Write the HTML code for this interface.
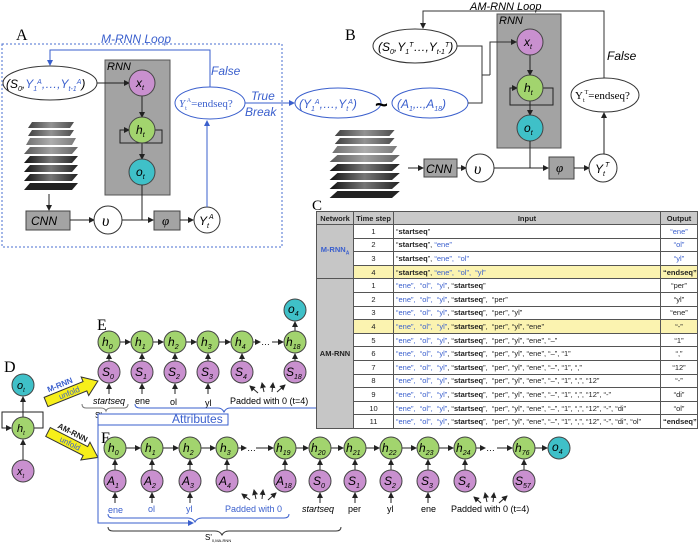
<!DOCTYPE html>
<html><head><meta charset="utf-8"><style>
body{margin:0;width:700px;height:543px;background:#fff;overflow:hidden;position:relative;font-family:"Liberation Sans",sans-serif}
svg{position:absolute;left:0;top:0}
table{position:absolute;left:316px;top:211px;width:381px;border-collapse:collapse;font-size:7.5px;font-family:"Liberation Sans",sans-serif;color:#222;table-layout:fixed}
td,th{border:1px solid #555;padding:0 2px;height:12.6px;line-height:11px;white-space:nowrap;overflow:hidden}
th{background:#c9c9c9;font-weight:bold;height:12px}
td.n{background:#c6c6c6;font-weight:bold;text-align:center}
td.c{text-align:center}
.b{color:#3a5fcd}
tr.y td{background:#fbf3b0}
tr.y td.n{background:#c6c6c6}
</style></head><body>
<svg width="700" height="543" viewBox="0 0 700 543" font-family="Liberation Sans, sans-serif">
<defs>
<marker id="a" markerWidth="6" markerHeight="6" refX="5" refY="3" orient="auto" markerUnits="userSpaceOnUse"><path d="M0,0L6,3L0,6z" fill="#222"/></marker>
<marker id="ab" markerWidth="6" markerHeight="6" refX="5" refY="3" orient="auto" markerUnits="userSpaceOnUse"><path d="M0,0L6,3L0,6z" fill="#3a5fcd"/></marker>
<linearGradient id="g" x1="0" x2="1"><stop offset="0" stop-color="#111"/><stop offset="0.5" stop-color="#777"/><stop offset="1" stop-color="#222"/></linearGradient>
<g id="stack">
<polygon points="10,0 52,0 48,6 6,6" fill="url(#g)" opacity="0.8"/>
<polygon points="10,8 52,8 48,14 6,14" fill="url(#g)" opacity="0.8"/>
<polygon points="8,16 54,16 50,23 4,23" fill="url(#g)" opacity="0.6"/>
<polygon points="8,25 56,25 50,32 2,32" fill="url(#g)" opacity="0.7"/>
<polygon points="8,34 56,34 50,41 2,41" fill="url(#g)"/>
<polygon points="8,43 56,43 50,50 2,50" fill="url(#g)"/>
<polygon points="8,52 56,52 50,59 2,59" fill="url(#g)"/>
<polygon points="8,61 56,61 50,68 2,68" fill="#222"/>
</g>
</defs>

<!-- Panel A -->
<text x="16" y="40" font-family="Liberation Serif, serif" font-size="16">A</text>
<text x="101" y="43" font-size="12" font-style="italic" fill="#3a5fcd">M-RNN Loop</text>
<rect x="2" y="44" width="280" height="203" fill="none" stroke="#4a6fd0" stroke-dasharray="2,2"/>
<ellipse cx="50" cy="83" rx="47" ry="17" fill="#fff" stroke="#333"/>
<text x="6" y="88" font-size="12" font-style="italic">(S<tspan font-size="7" dy="3">0</tspan><tspan dy="-3">,</tspan><tspan fill="#3a5fcd">Y<tspan font-size="7" dy="3">1</tspan><tspan font-size="7" dy="-7">A</tspan><tspan dy="4">,…,Y</tspan><tspan font-size="7" dy="3">t-1</tspan><tspan font-size="7" dy="-7">A</tspan></tspan><tspan dy="4">)</tspan></text>
<rect x="105" y="60" width="65" height="135" fill="#a3a3a3" stroke="#555"/>
<text x="107" y="70" font-size="11" font-style="italic">RNN</text>
<line x1="97" y1="83" x2="129" y2="83" stroke="#222" marker-end="url(#a)"/>
<line x1="142" y1="96" x2="142" y2="117" stroke="#222" marker-end="url(#a)"/>
<line x1="142" y1="143" x2="142" y2="159" stroke="#222" marker-end="url(#a)"/>
<path d="M155,130H162V143H120V130H129" fill="none" stroke="#222" marker-end="url(#a)"/>
<circle cx="142" cy="83" r="13" fill="#c990cf" stroke="#444"/><text x="136" y="87" font-size="12" font-style="italic">x<tspan font-size="7" dy="3">t</tspan></text>
<circle cx="142" cy="130" r="13" fill="#a2d46e" stroke="#444"/><text x="136" y="134" font-size="12" font-style="italic">h<tspan font-size="7" dy="3">t</tspan></text>
<circle cx="142" cy="172" r="13" fill="#3fc0c8" stroke="#444"/><text x="136" y="176" font-size="12" font-style="italic">o<tspan font-size="7" dy="3">t</tspan></text>
<use href="#stack" x="22" y="122"/>
<line x1="49" y1="194" x2="49" y2="210" stroke="#222" marker-end="url(#a)"/>
<rect x="26" y="211" width="44" height="19" fill="#a3a3a3" stroke="#444"/><text x="31" y="225" font-size="12" font-style="italic">CNN</text>
<line x1="70" y1="220" x2="94" y2="220" stroke="#222" marker-end="url(#a)"/>
<circle cx="108" cy="220" r="14" fill="#fff" stroke="#333"/><text x="102" y="226" font-size="16" font-style="italic" font-family="Liberation Serif,serif">υ</text>
<path d="M142,185V220" stroke="#222"/>
<line x1="122" y1="220" x2="153" y2="220" stroke="#222" marker-end="url(#a)"/>
<rect x="154" y="211" width="26" height="19" fill="#a3a3a3" stroke="#444"/><text x="162" y="225" font-size="13" font-style="italic" font-family="Liberation Serif,serif">φ</text>
<line x1="180" y1="220" x2="193" y2="220" stroke="#222" marker-end="url(#a)"/>
<circle cx="207" cy="220" r="13" fill="#fff" stroke="#333"/><text x="199" y="225" font-size="12" font-style="italic">Y<tspan font-size="7" dy="3">t</tspan><tspan font-size="7" dy="-9">A</tspan></text>
<line x1="207" y1="207" x2="207" y2="121" stroke="#3a5fcd" marker-end="url(#ab)"/>
<path d="M210,87V50H50V65" fill="none" stroke="#3a5fcd" marker-end="url(#ab)"/>
<ellipse cx="210" cy="103" rx="35" ry="16" fill="#fff" stroke="#3a5fcd"/>
<text x="179" y="107" font-size="11" fill="#3a5fcd" font-family="Liberation Serif,serif"><tspan font-style="italic">Y</tspan><tspan font-size="6" dy="3">t</tspan><tspan font-size="6" dy="-8">A</tspan><tspan dy="5">=endseq?</tspan></text>
<text x="211" y="75" font-size="12" font-style="italic" fill="#3a5fcd">False</text>
<text x="251" y="100" font-size="12" font-style="italic" fill="#3a5fcd">True</text>
<text x="245" y="116" font-size="12" font-style="italic" fill="#3a5fcd">Break</text>
<line x1="245" y1="103" x2="294" y2="103" stroke="#3a5fcd" marker-end="url(#ab)"/>
<ellipse cx="338" cy="103" rx="43" ry="15" fill="#fff" stroke="#3a5fcd"/>
<text x="299" y="108" font-size="12" font-style="italic" fill="#3a5fcd">(Y<tspan font-size="7" dy="3">1</tspan><tspan font-size="7" dy="-7">A</tspan><tspan dy="4">,…,Y</tspan><tspan font-size="7" dy="3">t</tspan><tspan font-size="7" dy="-7">A</tspan><tspan dy="4">)</tspan></text>
<text x="375" y="112" font-size="22" font-weight="bold">~</text>
<ellipse cx="430" cy="103" rx="38" ry="15" fill="#fff" stroke="#3a5fcd"/>
<text x="397" y="108" font-size="12" font-style="italic" fill="#3a5fcd">(A<tspan font-size="7" dy="3">1</tspan><tspan dy="-3">,..,A</tspan><tspan font-size="7" dy="3">18</tspan><tspan dy="-3">)</tspan></text>

<!-- Panel B -->
<text x="345" y="40" font-family="Liberation Serif, serif" font-size="16">B</text>
<text x="470" y="10" font-size="11" font-style="italic">AM-RNN Loop</text>
<path d="M604,78V11H423V28" fill="none" stroke="#333" marker-end="url(#a)"/>
<text x="607" y="60" font-size="12" font-style="italic">False</text>
<ellipse cx="415" cy="46" rx="42" ry="17" fill="#fff" stroke="#333"/>
<text x="378" y="51" font-size="12" font-style="italic">(S<tspan font-size="7" dy="3">0</tspan><tspan dy="-3">,Y</tspan><tspan font-size="7" dy="3">1</tspan><tspan font-size="7" dy="-7">T</tspan><tspan dy="4">…,Y</tspan><tspan font-size="7" dy="3">t-1</tspan><tspan font-size="7" dy="-7">T</tspan><tspan dy="4">)</tspan></text>
<rect x="497" y="14" width="64" height="134" fill="#a3a3a3" stroke="#555"/>
<text x="499" y="24" font-size="11" font-style="italic">RNN</text>
<path d="M457,46H482V103H468" fill="none" stroke="#333"/>
<line x1="482" y1="75" x2="490" y2="75" stroke="#333"/>
<path d="M490,75V42H516" fill="none" stroke="#333" marker-end="url(#a)"/>
<line x1="530" y1="55" x2="530" y2="75" stroke="#222" marker-end="url(#a)"/>
<line x1="530" y1="101" x2="530" y2="115" stroke="#222" marker-end="url(#a)"/>
<path d="M543,88H553V105H510V88H517" fill="none" stroke="#222" marker-end="url(#a)"/>
<circle cx="530" cy="42" r="13" fill="#c990cf" stroke="#444"/><text x="524" y="46" font-size="12" font-style="italic">x<tspan font-size="7" dy="3">t</tspan></text>
<circle cx="530" cy="88" r="13" fill="#a2d46e" stroke="#444"/><text x="524" y="92" font-size="12" font-style="italic">h<tspan font-size="7" dy="3">t</tspan></text>
<circle cx="530" cy="128" r="13" fill="#3fc0c8" stroke="#444"/><text x="524" y="132" font-size="12" font-style="italic">o<tspan font-size="7" dy="3">t</tspan></text>
<g transform="translate(327,130) scale(1.3,1)"><use href="#stack"/></g>
<line x1="408" y1="168" x2="423" y2="168" stroke="#222" marker-end="url(#a)"/>
<rect x="424" y="159" width="33" height="18" fill="#a3a3a3" stroke="#444"/><text x="426" y="173" font-size="12" font-style="italic">CNN</text>
<line x1="457" y1="168" x2="466" y2="168" stroke="#222" marker-end="url(#a)"/>
<circle cx="480" cy="168" r="14" fill="#fff" stroke="#333"/><text x="474" y="174" font-size="16" font-style="italic" font-family="Liberation Serif,serif">υ</text>
<path d="M530,141V168" stroke="#222"/>
<line x1="494" y1="168" x2="548" y2="168" stroke="#222" marker-end="url(#a)"/>
<rect x="549" y="157" width="25" height="22" fill="#a3a3a3" stroke="#444"/><text x="556" y="172" font-size="13" font-style="italic" font-family="Liberation Serif,serif">φ</text>
<line x1="574" y1="168" x2="589" y2="168" stroke="#222" marker-end="url(#a)"/>
<circle cx="603" cy="168" r="14" fill="#fff" stroke="#333"/><text x="595" y="173" font-size="12" font-style="italic">Y<tspan font-size="7" dy="3">t</tspan><tspan font-size="7" dy="-9">T</tspan></text>
<line x1="604" y1="154" x2="604" y2="113" stroke="#222" marker-end="url(#a)"/>
<ellipse cx="605" cy="95" rx="34" ry="17" fill="#fff" stroke="#333"/>
<text x="575" y="99" font-size="11" font-family="Liberation Serif,serif">Y<tspan font-size="6" dy="3">t</tspan><tspan font-size="6" dy="-8">T</tspan><tspan dy="5">=endseq?</tspan></text>

<text x="312" y="210" font-family="Liberation Serif, serif" font-size="15">C</text>

<!-- Panel D -->
<text x="4" y="372" font-family="Liberation Serif, serif" font-size="16">D</text>
<line x1="23" y1="417" x2="23" y2="397" stroke="#222" marker-end="url(#a)"/>
<line x1="23" y1="460" x2="23" y2="440" stroke="#222" marker-end="url(#a)"/>
<path d="M34,428H43V412H2V428H11" fill="none" stroke="#222" marker-end="url(#a)"/>
<circle cx="23" cy="385" r="11" fill="#3fc0c8" stroke="#444"/><text x="17" y="389" font-size="11" font-style="italic">o<tspan font-size="6" dy="3">t</tspan></text>
<circle cx="23" cy="428" r="11" fill="#a2d46e" stroke="#444"/><text x="17" y="432" font-size="11" font-style="italic">h<tspan font-size="6" dy="3">t</tspan></text>
<circle cx="23" cy="471" r="11" fill="#c990cf" stroke="#444"/><text x="17" y="475" font-size="11" font-style="italic">x<tspan font-size="6" dy="3">t</tspan></text>
<g transform="translate(46,402) rotate(-22)">
<polygon points="0,-5 42,-5 42,-10 56,0 42,10 42,5 0,5" fill="#f7ef1a" stroke="#333"/>
<text x="14" y="3" font-size="8" fill="#3a5fcd">unfold</text>
<text x="6" y="-8" font-size="8" font-weight="bold" fill="#3a5fcd">M-RNN</text>
</g>
<g transform="translate(48,432) rotate(27)">
<polygon points="0,-5 42,-5 42,-10 56,0 42,10 42,5 0,5" fill="#f7ef1a" stroke="#333"/>
<text x="14" y="3" font-size="8" fill="#3a5fcd">unfold</text>
<text x="6" y="-8" font-size="8" font-weight="bold" fill="#222">AM-RNN</text>
</g>

<!-- Panel E -->
<text x="97" y="330" font-family="Liberation Serif, serif" font-size="16">E</text>
<g stroke="#222" marker-end="url(#a)">
<line x1="120" y1="342" x2="130" y2="342"/><line x1="153" y1="342" x2="163" y2="342"/><line x1="186" y1="342" x2="196" y2="342"/><line x1="219" y1="342" x2="230" y2="342"/>
<line x1="253" y1="342" x2="260" y2="342"/><line x1="272" y1="342" x2="283" y2="342"/>
<line x1="295" y1="331" x2="295" y2="322"/>
<line x1="109" y1="361" x2="109" y2="354"/><line x1="142" y1="361" x2="142" y2="354"/><line x1="175" y1="361" x2="175" y2="354"/><line x1="208" y1="361" x2="208" y2="354"/><line x1="242" y1="361" x2="242" y2="354"/><line x1="295" y1="361" x2="295" y2="354"/>
<line x1="109" y1="394" x2="109" y2="384"/><line x1="142" y1="394" x2="142" y2="384"/><line x1="175" y1="394" x2="175" y2="384"/><line x1="208" y1="394" x2="208" y2="384"/>
<line x1="258" y1="393" x2="250" y2="386"/><line x1="264" y1="392" x2="262" y2="383"/><line x1="272" y1="392" x2="273" y2="383"/><line x1="277" y1="392" x2="285" y2="385"/>
</g>
<text x="261" y="345" font-size="9">…</text>
<g font-size="12" font-style="italic">
<circle cx="109" cy="342" r="11" fill="#a2d46e" stroke="#444"/><text x="102" y="346">h<tspan font-size="7" dy="3">0</tspan></text>
<circle cx="142" cy="342" r="11" fill="#a2d46e" stroke="#444"/><text x="135" y="346">h<tspan font-size="7" dy="3">1</tspan></text>
<circle cx="175" cy="342" r="11" fill="#a2d46e" stroke="#444"/><text x="168" y="346">h<tspan font-size="7" dy="3">2</tspan></text>
<circle cx="208" cy="342" r="11" fill="#a2d46e" stroke="#444"/><text x="201" y="346">h<tspan font-size="7" dy="3">3</tspan></text>
<circle cx="242" cy="342" r="11" fill="#a2d46e" stroke="#444"/><text x="235" y="346">h<tspan font-size="7" dy="3">4</tspan></text>
<circle cx="295" cy="342" r="11" fill="#a2d46e" stroke="#444"/><text x="286" y="346">h<tspan font-size="7" dy="3">18</tspan></text>
<circle cx="295" cy="310" r="11" fill="#3fc0c8" stroke="#444"/><text x="288" y="313">o<tspan font-size="7" dy="3">4</tspan></text>
<circle cx="109" cy="372" r="11" fill="#c990cf" stroke="#444"/><text x="102" y="376">S<tspan font-size="7" dy="3">0</tspan></text>
<circle cx="142" cy="372" r="11" fill="#c990cf" stroke="#444"/><text x="135" y="376">S<tspan font-size="7" dy="3">1</tspan></text>
<circle cx="175" cy="372" r="11" fill="#c990cf" stroke="#444"/><text x="168" y="376">S<tspan font-size="7" dy="3">2</tspan></text>
<circle cx="208" cy="372" r="11" fill="#c990cf" stroke="#444"/><text x="201" y="376">S<tspan font-size="7" dy="3">3</tspan></text>
<circle cx="242" cy="372" r="11" fill="#c990cf" stroke="#444"/><text x="235" y="376">S<tspan font-size="7" dy="3">4</tspan></text>
<circle cx="295" cy="372" r="11" fill="#c990cf" stroke="#444"/><text x="286" y="376">S<tspan font-size="7" dy="3">18</tspan></text>
</g>
<g font-size="9">
<text x="93" y="404" font-style="italic">startseq</text>
<text x="135" y="404">ene</text><text x="170" y="405">ol</text><text x="205" y="406">yl</text>
<text x="230" y="404">Padded with 0 (t=4)</text>
</g>
<path d="M82,404Q82,408 86,408H101Q105,408 106,411Q107,408 111,408H124Q128,408 128,404" fill="none" stroke="#777"/>
<text x="95" y="418" font-size="8">S'<tspan font-size="4" dy="2">0,M-RNN</tspan></text>
<path d="M135,404Q135,408 140,408H218Q222,408 224,412Q226,408 230,408H316" fill="none" stroke="#3a5fcd"/>
<rect x="98" y="414" width="130" height="11" fill="#fff" stroke="#3a5fcd"/>
<text x="172" y="423" font-size="12" fill="#3a5fcd">Attributes</text>

<!-- Panel F -->
<path d="M98,425V523H193" fill="none" stroke="#3a5fcd" marker-end="url(#ab)"/>
<text x="101" y="443" font-family="Liberation Serif, serif" font-size="16">F</text>
<g stroke="#222" marker-end="url(#a)">
<line x1="126" y1="448" x2="140" y2="448"/><line x1="163" y1="448" x2="178" y2="448"/><line x1="201" y1="448" x2="215" y2="448"/>
<line x1="238" y1="448" x2="246" y2="448"/><line x1="256" y1="448" x2="273" y2="448"/>
<line x1="296" y1="448" x2="308" y2="448"/><line x1="331" y1="448" x2="343" y2="448"/><line x1="366" y1="448" x2="379" y2="448"/><line x1="402" y1="448" x2="416" y2="448"/><line x1="439" y1="448" x2="453" y2="448"/>
<line x1="476" y1="448" x2="485" y2="448"/><line x1="497" y1="448" x2="512" y2="448"/><line x1="535" y1="448" x2="547" y2="448"/>
<line x1="115" y1="470" x2="115" y2="460"/><line x1="152" y1="470" x2="152" y2="460"/><line x1="190" y1="470" x2="190" y2="460"/><line x1="227" y1="470" x2="227" y2="460"/><line x1="285" y1="470" x2="285" y2="460"/><line x1="320" y1="470" x2="320" y2="460"/><line x1="355" y1="470" x2="355" y2="460"/><line x1="391" y1="470" x2="391" y2="460"/><line x1="428" y1="470" x2="428" y2="460"/><line x1="465" y1="470" x2="465" y2="460"/><line x1="524" y1="470" x2="524" y2="460"/>
<line x1="115" y1="503" x2="115" y2="493"/><line x1="152" y1="503" x2="152" y2="493"/><line x1="190" y1="503" x2="190" y2="493"/><line x1="320" y1="503" x2="320" y2="493"/><line x1="355" y1="503" x2="355" y2="493"/><line x1="391" y1="503" x2="391" y2="493"/><line x1="428" y1="503" x2="428" y2="493"/>
<line x1="250" y1="500" x2="242" y2="494"/><line x1="256" y1="499" x2="254" y2="490"/><line x1="262" y1="499" x2="263" y2="490"/><line x1="268" y1="500" x2="276" y2="493"/>
<line x1="481" y1="503" x2="474" y2="497"/><line x1="487" y1="502" x2="485" y2="493"/><line x1="493" y1="502" x2="494" y2="493"/><line x1="499" y1="503" x2="507" y2="496"/>
</g>
<text x="247" y="451" font-size="9">…</text><text x="486" y="451" font-size="9">…</text>
<g font-size="12" font-style="italic">
<circle cx="115" cy="448" r="11" fill="#a2d46e" stroke="#444"/><text x="108" y="452">h<tspan font-size="7" dy="3">0</tspan></text>
<circle cx="152" cy="448" r="11" fill="#a2d46e" stroke="#444"/><text x="145" y="452">h<tspan font-size="7" dy="3">1</tspan></text>
<circle cx="190" cy="448" r="11" fill="#a2d46e" stroke="#444"/><text x="183" y="452">h<tspan font-size="7" dy="3">2</tspan></text>
<circle cx="227" cy="448" r="11" fill="#a2d46e" stroke="#444"/><text x="220" y="452">h<tspan font-size="7" dy="3">3</tspan></text>
<circle cx="285" cy="448" r="11" fill="#a2d46e" stroke="#444"/><text x="276" y="452">h<tspan font-size="7" dy="3">19</tspan></text>
<circle cx="320" cy="448" r="11" fill="#a2d46e" stroke="#444"/><text x="311" y="452">h<tspan font-size="7" dy="3">20</tspan></text>
<circle cx="355" cy="448" r="11" fill="#a2d46e" stroke="#444"/><text x="346" y="452">h<tspan font-size="7" dy="3">21</tspan></text>
<circle cx="391" cy="448" r="11" fill="#a2d46e" stroke="#444"/><text x="382" y="452">h<tspan font-size="7" dy="3">22</tspan></text>
<circle cx="428" cy="448" r="11" fill="#a2d46e" stroke="#444"/><text x="419" y="452">h<tspan font-size="7" dy="3">23</tspan></text>
<circle cx="465" cy="448" r="11" fill="#a2d46e" stroke="#444"/><text x="456" y="452">h<tspan font-size="7" dy="3">24</tspan></text>
<circle cx="524" cy="448" r="11" fill="#a2d46e" stroke="#444"/><text x="515" y="452">h<tspan font-size="7" dy="3">76</tspan></text>
<circle cx="559" cy="448" r="11" fill="#3fc0c8" stroke="#444"/><text x="552" y="451">o<tspan font-size="7" dy="3">4</tspan></text>
<circle cx="115" cy="481" r="11" fill="#c990cf" stroke="#444"/><text x="107" y="485">A<tspan font-size="7" dy="3">1</tspan></text>
<circle cx="152" cy="481" r="11" fill="#c990cf" stroke="#444"/><text x="144" y="485">A<tspan font-size="7" dy="3">2</tspan></text>
<circle cx="190" cy="481" r="11" fill="#c990cf" stroke="#444"/><text x="182" y="485">A<tspan font-size="7" dy="3">3</tspan></text>
<circle cx="227" cy="481" r="11" fill="#c990cf" stroke="#444"/><text x="219" y="485">A<tspan font-size="7" dy="3">4</tspan></text>
<circle cx="285" cy="481" r="11" fill="#c990cf" stroke="#444"/><text x="276" y="485">A<tspan font-size="7" dy="3">18</tspan></text>
<circle cx="320" cy="481" r="11" fill="#c990cf" stroke="#444"/><text x="313" y="485">S<tspan font-size="7" dy="3">0</tspan></text>
<circle cx="355" cy="481" r="11" fill="#c990cf" stroke="#444"/><text x="348" y="485">S<tspan font-size="7" dy="3">1</tspan></text>
<circle cx="391" cy="481" r="11" fill="#c990cf" stroke="#444"/><text x="384" y="485">S<tspan font-size="7" dy="3">2</tspan></text>
<circle cx="428" cy="481" r="11" fill="#c990cf" stroke="#444"/><text x="421" y="485">S<tspan font-size="7" dy="3">3</tspan></text>
<circle cx="465" cy="481" r="11" fill="#c990cf" stroke="#444"/><text x="458" y="485">S<tspan font-size="7" dy="3">4</tspan></text>
<circle cx="524" cy="481" r="11" fill="#c990cf" stroke="#444"/><text x="515" y="485">S<tspan font-size="7" dy="3">57</tspan></text>
</g>
<g font-size="9">
<text x="108" y="513" fill="#3a5fcd">ene</text><text x="148" y="512" fill="#3a5fcd">ol</text><text x="186" y="512" fill="#3a5fcd">yl</text>
<text x="225" y="512" fill="#3a5fcd">Padded with 0</text>
<text x="302" y="512" font-style="italic">startseq</text>
<text x="348" y="512">per</text><text x="387" y="512">yl</text><text x="421" y="512">ene</text>
<text x="451" y="512">Padded with 0 (t=4)</text>
</g>
<path d="M108,514Q108,518 113,518H188Q193,518 195,522Q197,518 202,518H284Q289,518 289,514" fill="none" stroke="#3a5fcd"/>
<path d="M108,527Q108,531 113,531H215Q220,531 222,535Q224,531 229,531H336Q341,531 341,527" fill="none" stroke="#333"/>
<text x="205" y="540" font-size="8">S'<tspan font-size="4" dy="2">0,MA-RNN</tspan></text>
</svg>

<table>
<colgroup><col style="width:37px"><col style="width:40px"><col style="width:267px"><col style="width:37px"></colgroup>
<tr><th>Network</th><th>Time step</th><th>Input</th><th>Output</th></tr>
<tr><td class="n b" rowspan="4" style="color:#3a5fcd">M-RNN<sub style="font-size:5px">A</sub></td><td class="c">1</td><td>“<b>startseq</b>”</td><td class="c b">“ene”</td></tr>
<tr><td class="c">2</td><td> “<b>startseq</b>”, <span class="b">“ene”</span></td><td class="c b">“ol”</td></tr>
<tr><td class="c">3</td><td>“<b>startseq</b>”, <span class="b">“ene”,&nbsp; “ol”</span></td><td class="c b">“yl”</td></tr>
<tr class="y"><td class="c">4</td><td>“<b>startseq</b>”, <span class="b">“ene”,&nbsp; “ol”, &nbsp;“yl”</span></td><td class="c"><b>“endseq”</b></td></tr>
<tr><td class="n" rowspan="11">AM-RNN</td><td class="c">1</td><td><span class="b">“ene”, &nbsp;“ol”, &nbsp;“yl”</span>, “<b>startseq</b>”</td><td class="c">“per”</td></tr>
<tr><td class="c">2</td><td><span class="b">“ene”, &nbsp;“ol”, &nbsp;“yl”</span>, “<b>startseq</b>”, &nbsp;“per”</td><td class="c">“yl”</td></tr>
<tr><td class="c">3</td><td><span class="b">“ene”, &nbsp;“ol”, &nbsp;“yl”</span>, “<b>startseq</b>”, &nbsp;“per”, “yl”</td><td class="c">“ene”</td></tr>
<tr class="y"><td class="c">4</td><td><span class="b">“ene”, &nbsp;“ol”, &nbsp;“yl”</span>, “<b>startseq</b>”, &nbsp;“per”, “yl”, “ene”</td><td class="c">“-”</td></tr>
<tr><td class="c">5</td><td><span class="b">“ene”, &nbsp;“ol”, &nbsp;“yl”</span>, “<b>startseq</b>”, &nbsp;“per”, “yl”, “ene”, “–”</td><td class="c">“1”</td></tr>
<tr><td class="c">6</td><td><span class="b">“ene”, &nbsp;“ol”, &nbsp;“yl”</span>, “<b>startseq</b>”, &nbsp;“per”, “yl”, “ene”, “–”, “1”</td><td class="c">“,”</td></tr>
<tr><td class="c">7</td><td><span class="b">“ene”, &nbsp;“ol”, &nbsp;“yl”</span>, “<b>startseq</b>”, &nbsp;“per”, “yl”, “ene”, “–”, “1”, “,”</td><td class="c">“12”</td></tr>
<tr><td class="c">8</td><td><span class="b">“ene”, &nbsp;“ol”, &nbsp;“yl”</span>, “<b>startseq</b>”, &nbsp;“per”, “yl”, “ene”, “–”, “1”, “,”, “12”</td><td class="c">“-”</td></tr>
<tr><td class="c">9</td><td><span class="b">“ene”, &nbsp;“ol”, &nbsp;“yl”</span>, “<b>startseq</b>”, &nbsp;“per”, “yl”, “ene”, “–”, “1”, “,”, “12”, “-”</td><td class="c">“di”</td></tr>
<tr><td class="c">10</td><td><span class="b">“ene”, &nbsp;“ol”, &nbsp;“yl”</span>, “<b>startseq</b>”, &nbsp;“per”, “yl”, “ene”, “–”, “1”, “,”, “12”, “-”, “di”</td><td class="c">“ol”</td></tr>
<tr><td class="c">11</td><td><span class="b">“ene”, &nbsp;“ol”, &nbsp;“yl”</span>, “<b>startseq</b>”, &nbsp;“per”, “yl”, “ene”, “–”, “1”, “,”, “12”, “-”, “di”, “ol”</td><td class="c"><b>“endseq”</b></td></tr>
</table>
</body></html>
